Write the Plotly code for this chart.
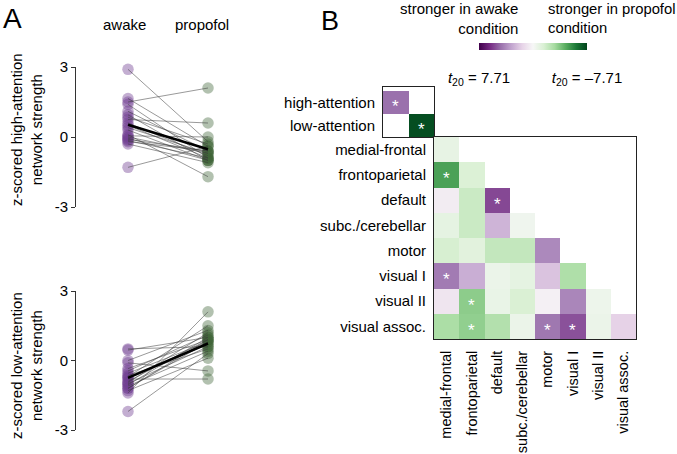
import numpy as np
import plotly.graph_objects as go

# ---------------- data ----------------
conditions = ["awake", "propofol"]

high_awake = [2.9, 1.65, 1.5, 1.4, 1.1, 0.95, 0.85, 0.75, 0.6, 0.5, 0.4,
              0.3, 0.1, 0.05, 0.0, -0.05, -0.1, -0.15, -0.2, -0.3, -1.3]
high_propofol = [-0.2, -0.4, 2.1, -0.9, -0.6, -1.0, -0.3, 0.6, -0.8, -0.9, -0.7,
                 -1.0, -1.7, 0.0, -0.7, -1.0, -0.6, -0.9, -0.6, -1.1, -0.4]

low_awake = [0.5, 0.45, 0.0, -0.1, -0.35, -0.45, -0.55, -0.65, -0.7, -0.75, -0.8,
             -0.9, -0.95, -1.0, -1.05, -1.1, -1.2, -1.3, -1.4, -1.2, -2.2]
low_propofol = [0.6, 1.0, 1.3, -0.45, 0.9, 1.1, 0.8, 0.5, 1.5, 0.7, -0.8,
                0.9, 1.2, 0.6, 1.0, 0.4, 0.8, 0.1, 2.1, 0.9, 0.3]

networks = ["medial-frontal", "frontoparietal", "default", "subc./cerebellar",
            "motor", "visual I", "visual II", "visual assoc."]
# t-statistics (awake > propofol positive); upper triangle empty
t_networks = [
    [-0.8, None, None, None, None, None, None, None],
    [-5.0, -1.4, None, None, None, None, None, None],
    [0.5, -2.0, 5.5, None, None, None, None, None],
    [-0.9, -2.0, 2.6, -0.4, None, None, None, None],
    [-1.6, -1.1, -2.2, -2.2, 3.9, None, None, None],
    [4.3, 2.8, -0.6, -0.9, 2.1, -2.8, None, None],
    [0.8, -3.6, -0.7, -1.5, 0.3, 4.0, -0.5, None],
    [-2.9, -3.5, -2.7, -0.6, 4.4, 5.3, -0.6, 1.6],
]
sig_networks = [
    [0, 0, 0, 0, 0, 0, 0, 0],
    [1, 0, 0, 0, 0, 0, 0, 0],
    [0, 0, 1, 0, 0, 0, 0, 0],
    [0, 0, 0, 0, 0, 0, 0, 0],
    [0, 0, 0, 0, 0, 0, 0, 0],
    [1, 0, 0, 0, 0, 0, 0, 0],
    [0, 1, 0, 0, 0, 0, 0, 0],
    [0, 1, 0, 0, 1, 1, 0, 0],
]
summary_labels = ["high-attention", "low-attention"]
t_summary = [[4.6, None], [None, -7.4]]
sig_summary = [[1, 0], [0, 1]]
t_limit = 7.71
yticks = [-3, 0, 3]
ytick_text = ["-3", "0", "3"]

# ---------------- styling ----------------
W, H = 677, 454
FONT = "Liberation Sans, Arial, Helvetica, sans-serif"
PURPLE = "rgba(112,62,145,0.42)"
GREEN = "rgba(62,100,55,0.40)"


def px_x(p):
    return p / W


def px_y(p):
    return 1 - p / H


fig = go.Figure()


def add_panel(aw, pr, xa, ya):
    fig.add_trace(go.Scatter(x=[conditions[0]] * len(aw), y=aw, mode="markers",
                             marker=dict(size=11.5, color=PURPLE, line=dict(width=0)),
                             xaxis=xa, yaxis=ya, showlegend=False, cliponaxis=False))
    fig.add_trace(go.Scatter(x=[conditions[1]] * len(pr), y=pr, mode="markers",
                             marker=dict(size=11.5, color=GREEN, line=dict(width=0)),
                             xaxis=xa, yaxis=ya, showlegend=False, cliponaxis=False))
    lx, ly = [], []
    for a, p in zip(aw, pr):
        lx += [conditions[0], conditions[1], None]
        ly += [a, p, None]
    fig.add_trace(go.Scatter(x=lx, y=ly, mode="lines",
                             line=dict(color="rgba(60,60,60,0.75)", width=0.7),
                             xaxis=xa, yaxis=ya, showlegend=False))
    fig.add_trace(go.Scatter(x=conditions, y=[np.mean(aw), np.mean(pr)], mode="lines",
                             line=dict(color="black", width=2.6),
                             xaxis=xa, yaxis=ya, showlegend=False))


add_panel(high_awake, high_propofol, "x", "y")
add_panel(low_awake, low_propofol, "x2", "y2")

# heatmaps (colour axis runs purple -> green, i.e. awake-stronger on the left)
z_sum = [[(-v if v is not None else None) for v in row] for row in t_summary]
z_net = [[(-v if v is not None else None) for v in row] for row in t_networks]
fig.add_trace(go.Heatmap(x=summary_labels, y=summary_labels, z=z_sum,
                         coloraxis="coloraxis", xaxis="x3", yaxis="y3", hoverongaps=False))
fig.add_trace(go.Heatmap(x=networks, y=networks, z=z_net,
                         coloraxis="coloraxis", xaxis="x4", yaxis="y4", hoverongaps=False))

star_font = dict(color="white", size=17, family=FONT)
annotations = []
for i in range(len(summary_labels)):
    for j in range(len(summary_labels)):
        if sig_summary[i][j]:
            annotations.append(dict(x=summary_labels[j], y=summary_labels[i], xref="x3", yref="y3",
                                    text="*", showarrow=False, yshift=-4,
                                    xanchor="center", yanchor="middle", font=star_font))
for i in range(len(networks)):
    for j in range(len(networks)):
        if sig_networks[i][j]:
            annotations.append(dict(x=networks[j], y=networks[i], xref="x4", yref="y4",
                                    text="*", showarrow=False, yshift=-4,
                                    xanchor="center", yanchor="middle", font=star_font))

# panel A axes
ax_common = dict(showgrid=False, zeroline=False)
x_dom = [px_x(76), px_x(230)]
for key in ("xaxis", "xaxis2"):
    fig.layout[key] = dict(domain=x_dom, range=[-0.65, 1.275], type="category",
                           categoryorder="array", categoryarray=conditions,
                           visible=False, **ax_common)
yax = dict(range=[-3, 3], tickvals=yticks, ticktext=ytick_text, showline=True,
           linecolor="#333", linewidth=1, ticks="outside", ticklen=4, tickcolor="#333",
           tickfont=dict(size=15), **ax_common)
fig.layout["yaxis"] = dict(domain=[px_y(207), px_y(67)], anchor="x", **yax)
fig.layout["yaxis2"] = dict(domain=[px_y(430), px_y(291)], anchor="x2", **yax)

# panel B axes
box = dict(showline=True, mirror=True, linecolor="#222", linewidth=1, ticks="",
           showgrid=False, zeroline=False)
fig.layout["xaxis3"] = dict(domain=[px_x(383), px_x(434)], anchor="y3",
                            showticklabels=False, tickfont=dict(size=15), **box)
fig.layout["yaxis3"] = dict(domain=[px_y(137), px_y(87)], anchor="x3",
                            autorange="reversed", ticklabelstandoff=4,
                            tickfont=dict(size=15), **box)
fig.layout["xaxis4"] = dict(domain=[px_x(434), px_x(636)], anchor="y4",
                            tickangle=-90, ticklabelstandoff=5,
                            tickfont=dict(size=14.5), **box)
fig.layout["yaxis4"] = dict(domain=[px_y(339), px_y(137)], anchor="x4",
                            autorange="reversed", ticklabelstandoff=4,
                            tickfont=dict(size=15), **box)

fig.update_layout(
    width=W, height=H,
    margin=dict(l=0, r=0, t=0, b=0, autoexpand=False),
    paper_bgcolor="white", plot_bgcolor="white",
    font=dict(family=FONT, size=15, color="black"),
    showlegend=False,
    coloraxis=dict(
        colorscale="PRGn", cmin=-t_limit, cmax=t_limit,
        colorbar=dict(orientation="h", x=px_x(533), xanchor="center",
                      y=px_y(43), yanchor="top", len=108, lenmode="pixels",
                      thickness=7, thicknessmode="pixels", outlinewidth=0,
                      xpad=0, ypad=0,
                      tickvals=[-t_limit, t_limit],
                      ticktext=["<i>t</i><sub>20</sub> = 7.71", "<i>t</i><sub>20</sub> = \u20137.71"],
                      ticks="outside", ticklen=15, tickcolor="rgba(0,0,0,0)",
                      tickfont=dict(size=15, family=FONT)),
    ),
)


def note(text, x, y, xanchor="center", yanchor="middle", **kw):
    d = dict(text=text, x=x, y=y, xref=kw.pop("xref", "paper"), yref="paper",
             xanchor=xanchor, yanchor=yanchor, showarrow=False,
             font=dict(size=kw.pop("size", 15)))
    d.update(kw)
    return d


annotations += [
    note("A", px_x(1), px_y(1), xanchor="left", yanchor="top", size=28),
    note("B", px_x(319), px_y(4), xanchor="left", yanchor="top", size=27),
    note(conditions[0], 0, px_y(25), xref="x", xshift=-4),
    note(conditions[1], 1, px_y(25), xref="x", xshift=-6),
    note("z-scored high-attention<br>network strength", px_x(26), px_y(130), textangle=-90),
    note("z-scored low-attention<br>network strength", px_x(26), px_y(366), textangle=-90),
    note("stronger in awake<br>condition", px_x(520), px_y(19), xanchor="right", align="right"),
    note("stronger in propofol<br>condition", px_x(546), px_y(19), xanchor="left", align="left",
         size=14.8),
]
fig.update_layout(annotations=annotations)

fig.write_html("out.html", config={"displayModeBar": False},
               post_script="document.body.style.margin='0px';")
